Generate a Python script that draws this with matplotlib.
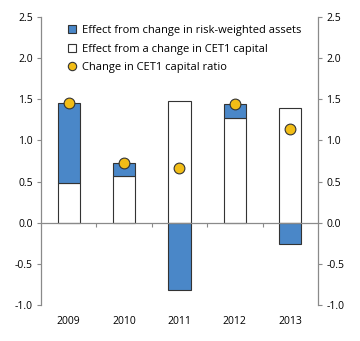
import numpy as np
import matplotlib.pyplot as plt
from matplotlib.lines import Line2D
from matplotlib.patches import Patch
from matplotlib.transforms import blended_transform_factory

plt.rcParams['font.family'] = ['Open Sans', 'DejaVu Sans']

years = ['2009', '2010', '2011', '2012', '2013']
rwa_effect = [0.98, 0.16, -0.82, 0.17, -0.26]
cet1_effect = [0.48, 0.57, 1.48, 1.27, 1.39]
ratio_change = [1.46, 0.73, 0.66, 1.44, 1.14]

blue = '#4a87c8'
yellow = '#f2bd16'
grey = '#8a8a8a'

x = np.arange(len(years))
rwa = np.array(rwa_effect)
cet = np.array(cet1_effect)
# blue stacked on top of white when positive, from zero when negative
rwa_bottom = np.where(rwa > 0, cet, 0)

fig = plt.figure(figsize=(3.6, 3.41), dpi=100)
ax = fig.add_axes([0.114, 0.106, 0.769, 0.844])

ax.bar(x, cet, width=0.4, color='white', edgecolor='#333333', linewidth=0.8, zorder=2)
ax.bar(x, rwa, bottom=rwa_bottom, width=0.4, color=blue, edgecolor='#333333',
       linewidth=0.8, zorder=2)
ax.scatter(x, ratio_change, s=60, color=yellow, edgecolor='#333333', linewidth=0.8, zorder=4)

ax.set_xlim(-0.5, 4.5)
ax.set_ylim(-1.0, 2.5)
ax.set_yticks(np.arange(-1.0, 2.51, 0.5))
ax.set_yticklabels([f'{v:.1f}' for v in np.arange(-1.0, 2.51, 0.5)])

ax.spines['top'].set_visible(False)
ax.spines['bottom'].set_position(('data', 0))
for s in ['left', 'right', 'bottom']:
    ax.spines[s].set_color(grey)
    ax.spines[s].set_linewidth(0.9)
ax.spines['bottom'].set_zorder(3)

ax.set_xticks(x[:-1] + 0.5)
ax.set_xticklabels([])
ax.tick_params(axis='x', length=3, color=grey, direction='out')
ax.tick_params(axis='y', length=3, color=grey, labelsize=7.5, pad=3,
               left=True, right=True, labelleft=True, labelright=True)

trans = blended_transform_factory(ax.transData, ax.transAxes)
for i, yr in enumerate(years):
    ax.text(x[i], -0.04, yr, transform=trans, ha='center', va='top', fontsize=7.5)

handles = [
    Patch(facecolor=blue, edgecolor='#333333', linewidth=0.8),
    Patch(facecolor='white', edgecolor='#333333', linewidth=0.8),
    Line2D([], [], marker='o', linestyle='none', markersize=6,
           markerfacecolor=yellow, markeredgecolor='#333333', markeredgewidth=0.8),
]
labels = ['Effect from change in risk-weighted assets',
          'Effect from a change in CET1 capital',
          'Change in CET1 capital ratio']
ax.legend(handles, labels, loc='upper left', bbox_to_anchor=(0.07, 1.0), frameon=False,
          fontsize=8, handlelength=0.7, handleheight=0.7, handletextpad=0.5,
          labelspacing=0.7, borderaxespad=0.3)

fig.savefig('out.png', dpi=100)
